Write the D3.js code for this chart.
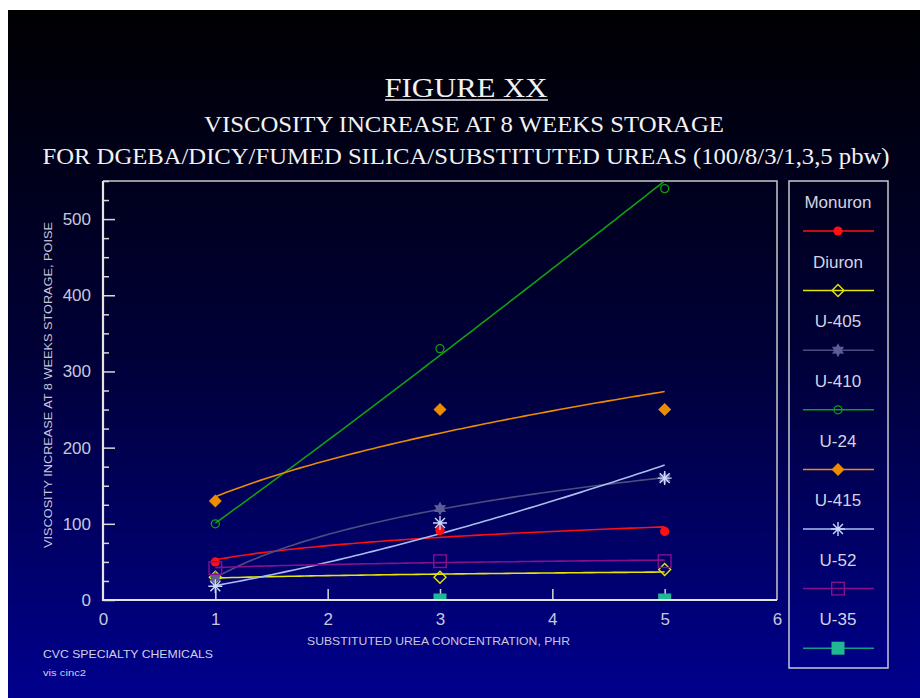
<!DOCTYPE html>
<html>
<head>
<meta charset="utf-8">
<script src="https://cdn.jsdelivr.net/npm/d3@7"></script>
<style>
html,body{margin:0;padding:0;background:#ffffff;}
svg{display:block;}
</style>
</head>
<body>
<svg id="chart" width="920" height="698"></svg>
<script>
// ---------------- DATA ----------------
const xValues = [1, 3, 5];
const seriesNames = ["Monuron", "Diuron", "U-405", "U-410", "U-24", "U-415", "U-52", "U-35"];
const monuron = [50, 91, 90];
const diuron = [30, 30, 40];
const u405 = [29, 120, 160];
const u410 = [100, 330, 540];
const u24 = [130, 250, 250];
const u415 = [18, 101, 160];
const u52 = [42, 51, 51];
const u35 = [null, 0, 0];
const seriesValues = [monuron, diuron, u405, u410, u24, u415, u52, u35];
const trendTypes = ["log", "power", "log", "power", "power", "power", "power", "none"];
const xTicks = [0, 1, 2, 3, 4, 5, 6];
const yTicks = [0, 100, 200, 300, 400, 500];
const titleLines = ["FIGURE XX", "VISCOSITY INCREASE AT 8 WEEKS STORAGE",
  "FOR DGEBA/DICY/FUMED SILICA/SUBSTITUTED UREAS (100/8/3/1,3,5 pbw)"];
const yAxisTitle = "VISCOSITY INCREASE AT 8 WEEKS STORAGE, POISE";
const xAxisTitle = "SUBSTITUTED UREA CONCENTRATION, PHR";
const footer1 = "CVC SPECIALTY CHEMICALS";
const footer2 = "vis cinc2";

// ---------------- STYLE ----------------
const lineColors = ["#ff1010", "#e6e600", "#4c4c80", "#10a010", "#ee8c00", "#a8bfee", "#86108a", "#10a088"];
const markerColors = ["#ff1010", "#e6e600", "#5c5c98", "#10a010", "#ee8c00", "#c8d8ff", "#86108a", "#20b892"];

const svg = d3.select("#chart");
const W = 920, H = 698;

const defs = svg.append("defs");
const grad = defs.append("linearGradient").attr("id", "bg").attr("x1", 0).attr("y1", 0).attr("x2", 0).attr("y2", 1);
grad.append("stop").attr("offset", "0%").attr("stop-color", "#000002");
grad.append("stop").attr("offset", "50%").attr("stop-color", "#000038");
grad.append("stop").attr("offset", "100%").attr("stop-color", "#00008e");

svg.append("rect").attr("x", 8).attr("y", 10).attr("width", W - 8).attr("height", H - 10).attr("fill", "url(#bg)");

// Titles
const titleColor = "#f2f2f2";
const serif = "'Liberation Serif','Times New Roman',serif";
svg.append("text").attr("x", 466).attr("y", 97).attr("text-anchor", "middle")
  .attr("font-family", serif).attr("font-size", 28).attr("fill", titleColor)
  .attr("textLength", 163).attr("lengthAdjust", "spacingAndGlyphs").text(titleLines[0]);
svg.append("line").attr("x1", 385).attr("x2", 548).attr("y1", 100).attr("y2", 100)
  .attr("stroke", titleColor).attr("stroke-width", 1.5);
svg.append("text").attr("x", 464).attr("y", 132).attr("text-anchor", "middle")
  .attr("font-family", serif).attr("font-size", 24).attr("fill", titleColor)
  .attr("textLength", 520).attr("lengthAdjust", "spacingAndGlyphs").text(titleLines[1]);
svg.append("text").attr("x", 466).attr("y", 164).attr("text-anchor", "middle")
  .attr("font-family", serif).attr("font-size", 24).attr("fill", titleColor)
  .attr("textLength", 847).attr("lengthAdjust", "spacingAndGlyphs").text(titleLines[2]);

// Plot area
const pL = 103, pR = 777, pT = 181, pB = 600;
const x = d3.scaleLinear().domain([0, 6]).range([pL, pR]);
const y = d3.scaleLinear().domain([0, 550]).range([pB, pT]);

defs.append("clipPath").attr("id", "plotclip").append("rect")
  .attr("x", pL).attr("y", pT).attr("width", pR - pL).attr("height", pB - pT);

const sans = "'Liberation Sans', Arial, sans-serif";
const labelColor = "#c8c8dc";

// Box top & right
svg.append("path").attr("d", `M${pL},${pT}H${pR}V${pB}`).attr("fill", "none")
  .attr("stroke", "#c8c8c8").attr("stroke-width", 1.5);

// Y axis
const yMinor = d3.range(0, 551, 25);
const yAxisG = svg.append("g").attr("transform", `translate(${pL},0)`);
yAxisG.call(d3.axisRight(y).tickValues(yMinor).tickSize(0).tickFormat(""));
yAxisG.select(".domain").remove();
yAxisG.selectAll(".tick line").attr("x2", d => (d % 100 === 0 ? 12 : 6))
  .attr("stroke", "#d8d8d8").attr("stroke-width", 1.5);
const yLab = svg.append("g").attr("transform", `translate(${pL - 12},0)`)
  .call(d3.axisLeft(y).tickValues(yTicks).tickSize(0).tickPadding(0).tickFormat(d3.format("d")));
yLab.select(".domain").remove();
yLab.selectAll("text").attr("font-family", sans).attr("font-size", 17).attr("fill", labelColor);

// X axis
const xAxisG = svg.append("g").attr("transform", `translate(0,${pB})`);
xAxisG.call(d3.axisTop(x).tickValues(xTicks.slice(1, -1)).tickSize(11).tickFormat(""));
xAxisG.select(".domain").remove();
xAxisG.selectAll(".tick line").attr("stroke", "#d8d8d8").attr("stroke-width", 1.5);
const xLab = svg.append("g").attr("transform", `translate(0,${pB + 12})`)
  .call(d3.axisBottom(x).tickValues(xTicks).tickSize(0).tickPadding(0).tickFormat(d3.format("d")));
xLab.select(".domain").remove();
xLab.selectAll("text").attr("font-family", sans).attr("font-size", 17).attr("fill", labelColor).attr("dy", "0.75em");

// Axis lines
svg.append("path").attr("d", `M${pL},${pT}V${pB}H${pR}`).attr("fill", "none")
  .attr("stroke", "#e4e4e4").attr("stroke-width", 2.2);

// Axis titles
svg.append("text").attr("transform", `translate(52,385) rotate(-90)`).attr("text-anchor", "middle")
  .attr("font-family", sans).attr("font-size", 11).attr("fill", labelColor)
  .attr("textLength", 326).attr("lengthAdjust", "spacingAndGlyphs").text(yAxisTitle);
svg.append("text").attr("x", 438.5).attr("y", 645).attr("text-anchor", "middle")
  .attr("font-family", sans).attr("font-size", 11).attr("fill", labelColor)
  .attr("textLength", 263).attr("lengthAdjust", "spacingAndGlyphs").text(xAxisTitle);

// Footer
svg.append("text").attr("x", 43).attr("y", 658).attr("font-family", sans).attr("font-size", 10.5)
  .attr("fill", "#d0d0e0").attr("textLength", 170).attr("lengthAdjust", "spacingAndGlyphs").text(footer1);
svg.append("text").attr("x", 43).attr("y", 676).attr("font-family", sans).attr("font-size", 9.5)
  .attr("fill", "#d0d0e0").attr("textLength", 43).attr("lengthAdjust", "spacingAndGlyphs").text(footer2);

// ---------------- Trendlines ----------------
function fit(xs, ys, type) {
  const pts = xs.map((xv, i) => [xv, ys[i]]).filter(p => p[1] != null && p[1] > 0);
  if (type === "none" || pts.length < 2) return null;
  const X = pts.map(p => Math.log(p[0]));
  const Y = pts.map(p => type === "power" ? Math.log(p[1]) : p[1]);
  const mx = d3.mean(X), my = d3.mean(Y);
  const sxy = d3.sum(X.map((v, i) => (v - mx) * (Y[i] - my)));
  const sxx = d3.sum(X.map(v => (v - mx) * (v - mx)));
  const b = sxy / sxx, a = my - b * mx;
  return type === "power" ? (t => Math.exp(a) * Math.pow(t, b)) : (t => a + b * Math.log(t));
}

const plotG = svg.append("g").attr("clip-path", "url(#plotclip)");
const lineGen = d3.line().x(d => x(d[0])).y(d => y(d[1]));
const sampleX = d3.range(xValues[0], xValues[xValues.length - 1] + 0.001, 0.05);

seriesValues.forEach((vals, i) => {
  const f = fit(xValues, vals, trendTypes[i]);
  if (!f) return;
  plotG.append("path").datum(sampleX.map(t => [t, f(t)])).attr("d", lineGen)
    .attr("fill", "none").attr("stroke", lineColors[i]).attr("stroke-width", 1.6);
});

// ---------------- Markers ----------------
function star6(size) {
  const r = size, ri = size * 0.55;
  const p = [];
  for (let k = 0; k < 12; k++) {
    const ang = -Math.PI / 2 + k * Math.PI / 6;
    const rr = k % 2 === 0 ? r : ri;
    p.push([rr * Math.cos(ang), rr * Math.sin(ang)]);
  }
  return "M" + p.map(q => q.join(",")).join("L") + "Z";
}
function asterisk(size) {
  let d = "";
  for (let k = 0; k < 4; k++) {
    const ang = k * Math.PI / 4;
    const dx = size * Math.cos(ang), dy = size * Math.sin(ang);
    d += `M${-dx},${-dy}L${dx},${dy}`;
  }
  return d;
}
function drawMarker(g, i) {
  const c = markerColors[i];
  switch (i) {
    case 0: g.append("circle").attr("r", 4.6).attr("fill", c); break;
    case 1: g.append("path").attr("d", "M0,-6L6,0L0,6L-6,0Z").attr("fill", "none").attr("stroke", c).attr("stroke-width", 1.4); break;
    case 2: g.append("path").attr("d", star6(7)).attr("fill", c); break;
    case 3: g.append("circle").attr("r", 4).attr("fill", "none").attr("stroke", c).attr("stroke-width", 1.3); break;
    case 4: g.append("path").attr("d", "M0,-6.5L6.5,0L0,6.5L-6.5,0Z").attr("fill", c); break;
    case 5: g.append("path").attr("d", asterisk(7)).attr("stroke", c).attr("stroke-width", 1.4); break;
    case 6: g.append("rect").attr("x", -6.3).attr("y", -6.3).attr("width", 12.6).attr("height", 12.6)
      .attr("fill", "none").attr("stroke", c).attr("stroke-width", 1.4); break;
    case 7: g.append("rect").attr("x", -6.5).attr("y", -6.5).attr("width", 13).attr("height", 13).attr("fill", c); break;
  }
}

const markG = svg.append("g").attr("clip-path", "url(#plotclip)");
seriesValues.forEach((vals, i) => {
  vals.forEach((v, j) => {
    if (v == null) return;
    const g = markG.append("g").attr("transform", `translate(${x(xValues[j])},${y(v)})`);
    drawMarker(g, i);
  });
});
// redraw axis line over clipped markers
svg.append("line").attr("x1", pL).attr("x2", pR).attr("y1", pB).attr("y2", pB)
  .attr("stroke", "#e4e4e4").attr("stroke-width", 2.2);

// ---------------- Legend ----------------
const lgX = 789, lgY = 181, lgW = 99, lgH = 487;
svg.append("rect").attr("x", lgX).attr("y", lgY).attr("width", lgW).attr("height", lgH)
  .attr("fill", "none").attr("stroke", "#c8c8d0").attr("stroke-width", 1.5);
const lgStep = 59.6;
seriesNames.forEach((name, i) => {
  const cy = 202 + i * lgStep;
  svg.append("text").attr("x", 838).attr("y", cy).attr("dy", "0.36em").attr("text-anchor", "middle")
    .attr("font-family", sans).attr("font-size", 17).attr("fill", "#d4d4e4").text(name);
  const ly = cy + 29;
  svg.append("line").attr("x1", 803).attr("x2", 874).attr("y1", ly).attr("y2", ly)
    .attr("stroke", lineColors[i]).attr("stroke-width", 1.5);
  const g = svg.append("g").attr("transform", `translate(838,${ly})`);
  drawMarker(g, i);
});
</script>
</body>
</html>
